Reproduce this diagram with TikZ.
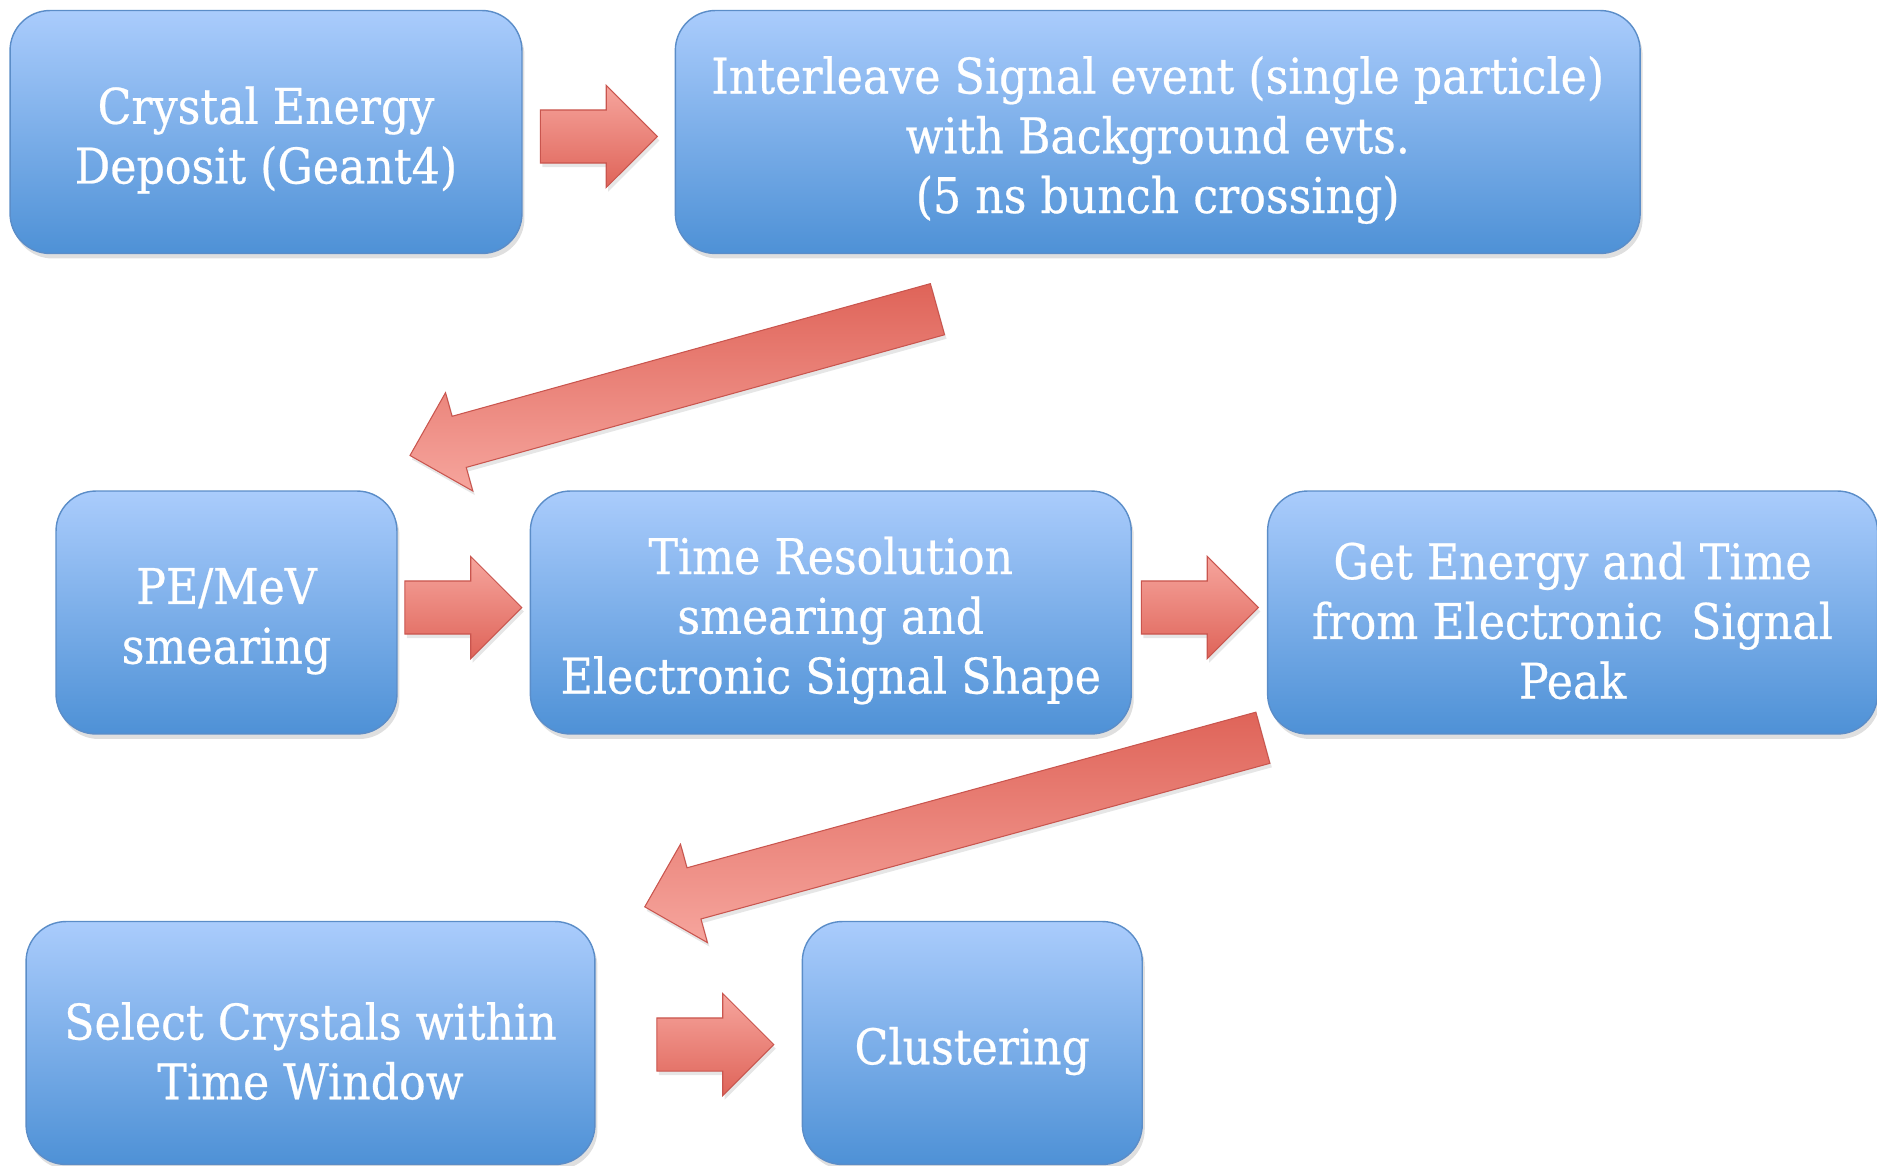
\documentclass[tikz,border=0pt]{standalone}
\usepackage{fontspec}
\setmainfont{DejaVu Serif}[FakeStretch=0.9, FakeBold=0.5]
\usepackage{xcolor}
\usetikzlibrary{positioning, shapes.arrows, shadows}

\definecolor{boxtop}{HTML}{AACCFC}
\definecolor{boxbot}{HTML}{4E91D6}
\definecolor{boxline}{HTML}{5B8DC8}
\definecolor{arrtop}{HTML}{F6A59D}
\definecolor{arrbot}{HTML}{DF6459}
\definecolor{arrline}{HTML}{C9554E}

% lowers the text block a little inside a box
\newcommand{\padtop}{\rule{0pt}{1.07cm}}

\begin{document}
\begin{tikzpicture}[x=0.02cm, y=-0.02cm,
    stagebox/.style={draw=boxline, line width=0.8pt, rounded corners=0.8cm, top color=boxtop, bottom color=boxbot,
        minimum height=4.86cm, inner sep=2pt, align=center, text=white, font=\fontsize{28}{34}\selectfont,
        drop shadow={opacity=0.25, shadow xshift=0.05cm, shadow yshift=-0.1cm}},
    flow/.style={single arrow, draw=arrline, line width=0.6pt, top color=arrtop, bottom color=arrbot,
        inner xsep=0pt, inner ysep=0.52cm, single arrow head extend=0.49cm, minimum height=2.34cm,
        drop shadow={opacity=0.2, shadow xshift=0.04cm, shadow yshift=-0.08cm}},
    diagflow/.style={flow, top color=arrbot, bottom color=arrtop},
    ]
    \useasboundingbox (0,0) rectangle (1877,1166);

    % first row
    \node[stagebox, minimum width=10.24cm] (deposit) at (266,132) {\padtop Crystal Energy\\Deposit (Geant4)};
    \node[stagebox, minimum width=19.3cm, right=3.04cm of deposit] (interleave)
        {\padtop Interleave Signal event (single particle)\\with Background evts.\\(5 ns bunch crossing)};

    % second row
    \node[stagebox, minimum width=6.82cm] (pemev) at (226.5,612.5) {\padtop PE/MeV\\smearing};
    \node[stagebox, minimum width=12.02cm, right=2.64cm of pemev] (timeres)
        {\padtop Time Resolution\\smearing and\\Electronic Signal Shape};
    \node[stagebox, minimum width=12.2cm, right=2.7cm of timeres] (peak)
        {\padtop Get Energy and Time\\from Electronic~ Signal\\Peak};

    % third row
    \node[stagebox, minimum width=11.38cm] (select) at (310.5,1043) {\padtop Select Crystals within\\Time Window};
    \node[stagebox, minimum width=6.8cm, right=4.12cm of select] (cluster) {\padtop Clustering};

    % block arrows
    \node[flow] (toint) at (585.5,136.5) {};
    \node[diagflow, rotate=195.5, minimum height=10.95cm] (topem) at (686.5,378.8) {};
    \node[flow] (totime) at (450,607.5) {};
    \node[flow] (topeak) at (1186.5,607.5) {};
    \node[diagflow, rotate=195.3, minimum height=12.82cm] (tosel) at (966.6,818.8) {};
    \node[flow] (toclu) at (702,1044.5) {};
\end{tikzpicture}
\end{document}
